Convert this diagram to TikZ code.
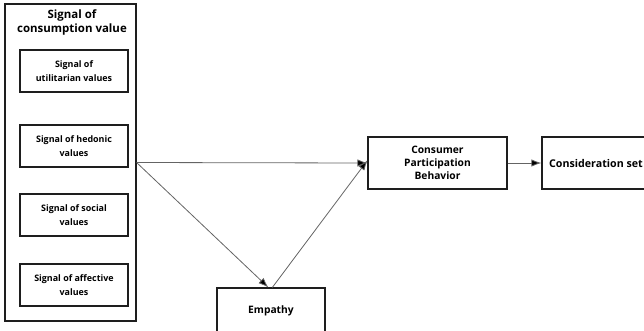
\documentclass[tikz,border=0pt]{standalone}
\usepackage{fontspec}
\setmainfont{Open Sans}
\usepackage{tikz}
\usetikzlibrary{arrows.meta}
\tikzset{every picture/.style={line width=0.75pt}}
\tikzset{
  valbox/.style={draw={rgb,255:red,30;green,30;blue,30}, line width=0.85pt, minimum width=81pt, minimum height=31.5pt, inner sep=1pt, align=center, font=\fontsize{6.7}{10}\selectfont\bfseries},
  mainbox/.style={draw={rgb,255:red,30;green,30;blue,30}, line width=0.85pt, inner sep=1pt, align=center, font=\fontsize{7.7}{9.6}\selectfont\bfseries},
  link/.style={draw={rgb,255:red,100;green,100;blue,100}, line width=0.6pt, -{Latex[length=7.5pt,width=5.5pt,fill=black]}}
}

\begin{document}
\begin{tikzpicture}[x=0.75pt,y=0.75pt,yscale=-1,xscale=1]
		\useasboundingbox (0,0) rectangle (644,330);
		\clip (0,0) rectangle (644,330);
		
		%Shape: Rectangle [outer]
		\node [draw={rgb,255:red,30;green,30;blue,30}, line width=0.85pt, minimum width=98.25pt, minimum height=237.75pt, inner sep=0pt] (outer) at (70.5,162.5) {};
		% Text Node
		\node [align=center, inner sep=0.75pt, font=\fontsize{8.6}{10.5}\selectfont\bfseries] (title) at (72,22) {Signal of\\consumption value};
		
		%Shape: Rectangle [values]
		\node [valbox] (util) at (74,71) {Signal of\\utilitarian values};
		\node [valbox] (hed) at (74,146) {Signal of hedonic\\values};
		\node [valbox] (soc) at (74,215) {Signal of social\\values};
		\node [valbox] (aff) at (74,285) {Signal of affective\\values};
		
		%Shape: Rectangle [right side]
		\node [mainbox, minimum width=104.25pt, minimum height=39pt] (cpb) at (437.5,163) {Consumer\\Participation\\Behavior};
		\node [mainbox, minimum width=81pt, minimum height=39pt, font=\fontsize{8}{9.6}\selectfont\bfseries] (cons) at (596,163) {Consideration set};
		\node [mainbox, minimum width=81pt, minimum height=60pt] (emp) at (271,328) {};
		% Text Node
		\node [font=\fontsize{7.7}{9.6}\selectfont\bfseries, inner sep=0.75pt] (emptext) at (271,311) {Empathy};
		
		%Straight Lines [links]
		\draw [link] (outer.east) -- (cpb.west);
		\draw [link] (outer.east) -- ([xshift=-2pt]emp.north);
		\draw [link] ([xshift=1pt]emp.north) -- ([yshift=-2pt]cpb.west);
		\draw [link] (cpb.east) -- (cons.west);
		
	\end{tikzpicture}
\end{document}
